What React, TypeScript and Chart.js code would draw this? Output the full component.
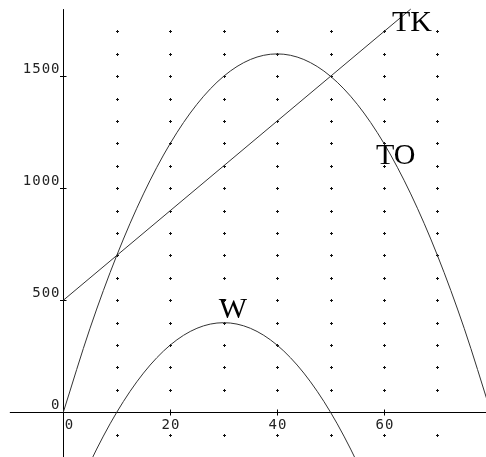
import React, { useEffect, useRef } from "react";
import { Chart, registerables } from "chart.js";

Chart.register(...registerables);

// Curve samples
const toX = [0, 5, 10, 15, 20, 25, 30, 35, 40, 45, 50, 55, 60, 65, 70, 75, 80];
const toY = [0, 375, 700, 975, 1200, 1375, 1500, 1575, 1600, 1575, 1500, 1375, 1200, 975, 700, 375, 0];

const tkX = [0, 65];
const tkY = [500, 1800];

const wX = [0, 5, 10, 15, 20, 25, 30, 35, 40, 45, 50, 55, 60];
const wY = [-500, -225, 0, 175, 300, 375, 400, 375, 300, 175, 0, -225, -500];

// Axis ticks
const xTickValues = [0, 20, 40, 60];
const yTickValues = [0, 500, 1000, 1500];

// Dot grid
const gridX = [10, 20, 30, 40, 50, 60, 70];
const gridY = [-100, 100, 200, 300, 400, 500, 600, 700, 800, 900, 1000, 1100, 1200, 1300, 1400, 1500, 1600, 1700];

// Curve labels (data coordinates of left/baseline anchor)
const labelTexts = ["TK", "TO", "W"];
const labelX = [61.5, 58.5, 29.1];
const labelY = [1702, 1108, 421];

const xAxisStart = -10;
const yAxisStart = -200;
const yAxisEnd = 1800;

const toPoints = (xs: number[], ys: number[]) => xs.map((x, i) => ({ x, y: ys[i] }));

const decorPlugin = {
  id: "decor",
  beforeDatasetsDraw(chart: any) {
    const ctx = chart.ctx;
    const xs = chart.scales.x;
    const ys = chart.scales.y;
    ctx.save();
    // dot grid
    ctx.fillStyle = "#111";
    for (const gx of gridX) {
      for (const gy of gridY) {
        const px = Math.round(xs.getPixelForValue(gx));
        const py = Math.round(ys.getPixelForValue(gy));
        ctx.fillRect(px - 1, py, 3, 1);
        ctx.fillRect(px, py - 1, 1, 3);
      }
    }
    // axes
    const x0 = Math.round(xs.getPixelForValue(0)) + 0.5;
    const y0 = Math.round(ys.getPixelForValue(0)) + 0.5;
    ctx.strokeStyle = "#000";
    ctx.lineWidth = 1;
    ctx.beginPath();
    ctx.moveTo(xs.getPixelForValue(xAxisStart), y0);
    ctx.lineTo(chart.width, y0);
    ctx.moveTo(x0, ys.getPixelForValue(yAxisStart));
    ctx.lineTo(x0, ys.getPixelForValue(yAxisEnd));
    ctx.stroke();
    // ticks & labels
    ctx.font = "14px 'DejaVu Sans Mono'";
    (ctx as any).letterSpacing = "1px";
    ctx.fillStyle = "#222";
    ctx.beginPath();
    for (const v of yTickValues) {
      const py = Math.round(ys.getPixelForValue(v)) + 0.5;
      if (v !== 0) {
        ctx.moveTo(x0 - 3.5, py);
        ctx.lineTo(x0 + 3, py);
      }
      ctx.textAlign = "right";
      ctx.textBaseline = "alphabetic";
      ctx.fillText(String(v), x0 - 3, py - 4);
    }
    for (const v of xTickValues) {
      const px = Math.round(xs.getPixelForValue(v)) + 0.5;
      if (v !== 0) {
        ctx.moveTo(px, y0 - 3);
        ctx.lineTo(px, y0 + 3);
      }
      ctx.textAlign = "center";
      ctx.textBaseline = "alphabetic";
      ctx.fillText(String(v), v === 0 ? px + 6 : px + 0.5, y0 + 16);
    }
    ctx.stroke();
    ctx.restore();
  },
  afterDatasetsDraw(chart: any) {
    const ctx = chart.ctx;
    const xs = chart.scales.x;
    const ys = chart.scales.y;
    ctx.save();
    ctx.font = "30px 'Liberation Serif'";
    ctx.fillStyle = "#000";
    ctx.textAlign = "left";
    ctx.textBaseline = "alphabetic";
    labelTexts.forEach((t, i) => {
      ctx.fillText(t, xs.getPixelForValue(labelX[i]), ys.getPixelForValue(labelY[i]));
    });
    ctx.restore();
  },
};

export default function App() {
  const ref = useRef<HTMLCanvasElement>(null);
  useEffect(() => {
    if (!ref.current) return;
    const lineStyle = {
      borderColor: "#333",
      borderWidth: 1,
      pointRadius: 0,
      fill: false,
      cubicInterpolationMode: "monotone" as const,
    };
    const chart = new Chart(ref.current, {
      type: "line",
      data: {
        datasets: [
          { label: "TO", data: toPoints(toX, toY), ...lineStyle },
          { label: "TK", data: toPoints(tkX, tkY), ...lineStyle },
          { label: "W", data: toPoints(wX, wY), ...lineStyle },
        ],
      },
      options: {
        animation: false,
        responsive: false,
        layout: { padding: 0 },
        plugins: { legend: { display: false }, tooltip: { enabled: false } },
        scales: {
          x: { type: "linear", min: -11.84, max: 79.08, display: false },
          y: { type: "linear", min: -199.6, max: 1840.6, display: false },
        },
      },
      plugins: [decorPlugin],
    });
    return () => chart.destroy();
  }, []);
  return (
    <div style={{ position: "fixed", left: 0, top: 0, width: 486, height: 457, background: "#fff" }}>
      <canvas ref={ref} width={486} height={457} />
    </div>
  );
}
